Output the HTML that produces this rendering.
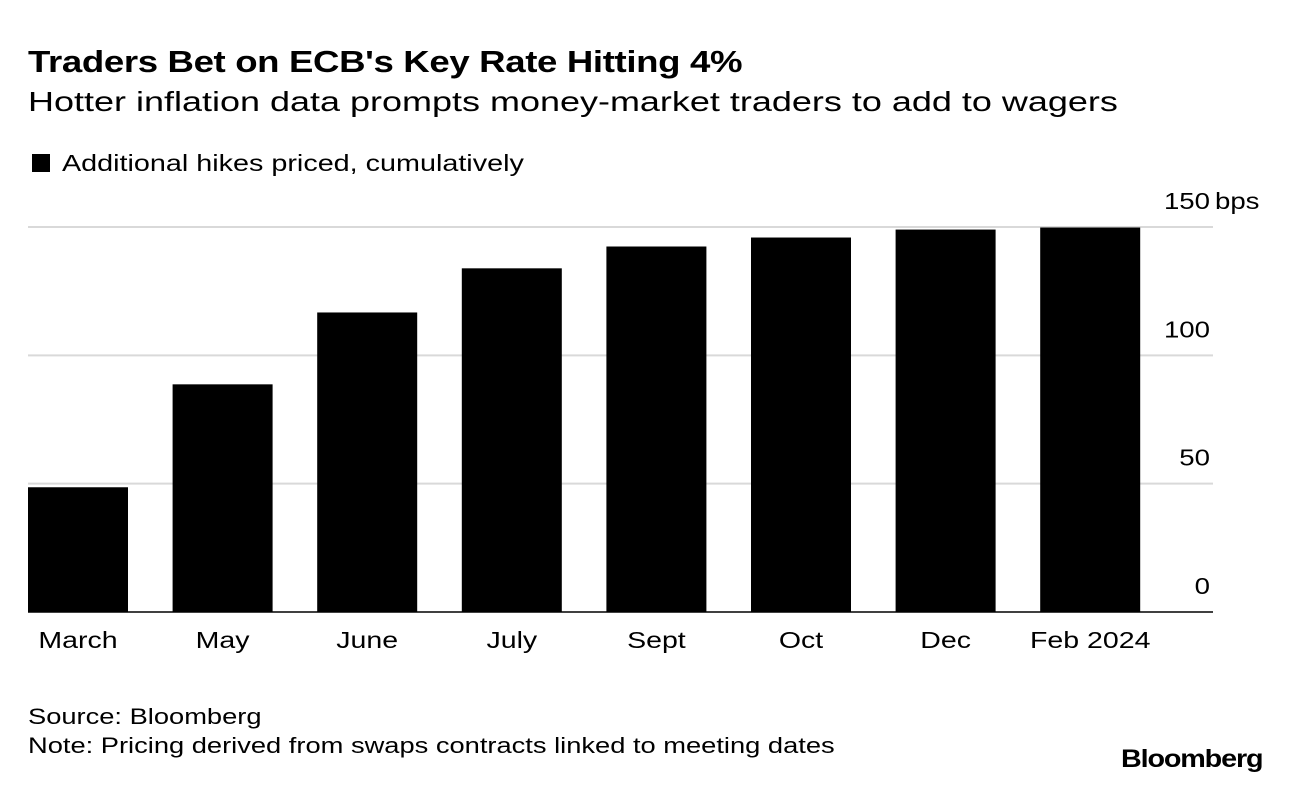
<!DOCTYPE html>
<html><head><meta charset="utf-8"><style>
body{margin:0;background:#fff;font-family:"Liberation Sans",sans-serif;}
#wrap{position:relative;width:1289px;height:786px;overflow:hidden;}
.t{position:absolute;white-space:nowrap;color:#000;transform-origin:0 0;}
</style></head><body>
<div id="wrap">
<div class="t" style="left:28px;top:44px;font-size:31px;font-weight:bold;letter-spacing:-0.3px;transform:scaleX(1.18)">Traders Bet on ECB's Key Rate Hitting 4%</div>
<div class="t" style="left:28px;top:86px;font-size:28px;transform:scaleX(1.285)">Hotter inflation data prompts money-market traders to add to wagers</div>
<div class="t" style="left:32px;top:150px;font-size:23px;"><span style="display:inline-block;width:18px;height:18px;background:#000;margin-right:12px;vertical-align:-1px"></span><span style="display:inline-block;transform:scaleX(1.25);transform-origin:0 0">Additional hikes priced, cumulatively</span></div>
<svg id="chart" width="1289" height="700" style="position:absolute;left:0;top:0"></svg>
<div class="t" style="left:28px;top:704px;font-size:22px;transform:scaleX(1.24)">Source: Bloomberg</div>
<div class="t" style="left:28px;top:733px;font-size:22px;transform:scaleX(1.24)">Note: Pricing derived from swaps contracts linked to meeting dates</div>
<div class="t" style="left:1121px;top:745px;font-size:25px;font-weight:bold;letter-spacing:-1px;transform:scaleX(1.15)">Bloomberg</div>
</div>
<script>
const categories=["March","May","June","July","Sept","Oct","Dec","Feb 2024"];
const values=[48.6,88.7,116.7,133.9,142.4,145.9,149,149.8];
const ticks=[0,50,100,150];
const NS="http://www.w3.org/2000/svg";
const svg=document.getElementById('chart');
const x0=28,x1=1213,yBase=612,yTop=227,vMax=150;
const y=v=>yBase-(v/vMax)*(yBase-yTop);
const step=144.6,bw=100;
const xb=i=>x0+i*step;
function mk(t,a){const e=document.createElementNS(NS,t);for(const k in a)e.setAttribute(k,a[k]);svg.appendChild(e);return e;}
ticks.forEach(t=>{
 const l=mk('line',{x1:x0,x2:x1,y1:y(t),y2:y(t),stroke:t===0?'#000':'#d9d9d9','stroke-width':t===0?1.5:2});
 
 
 const tx=mk('text',{x:0,y:0,transform:`translate(${x1-3},${y(t)-18}) scale(1.2,1)`,'text-anchor':'end','font-size':23,'font-family':'Liberation Sans, sans-serif',fill:'#000'});
 tx.textContent=t;
 
 
 if(t===vMax){const u=mk('text',{x:0,y:0,transform:`translate(${x1+2},${y(t)-18}) scale(1.2,1)`,'font-size':23,'font-family':'Liberation Sans, sans-serif',fill:'#000'});u.textContent='bps';
 
 }
});
values.forEach((v,i)=>{
 const r=mk('rect',{x:xb(i),y:y(v),width:bw,height:yBase-y(v),fill:'#000'});
 
 
 const tx=mk('text',{x:0,y:0,transform:`translate(${xb(i)+bw/2},648) scale(1.24,1)`,'text-anchor':'middle','font-size':23,'font-family':'Liberation Sans, sans-serif',fill:'#000'});
 tx.textContent=categories[i];
 
 
});
</script>
</body></html>
